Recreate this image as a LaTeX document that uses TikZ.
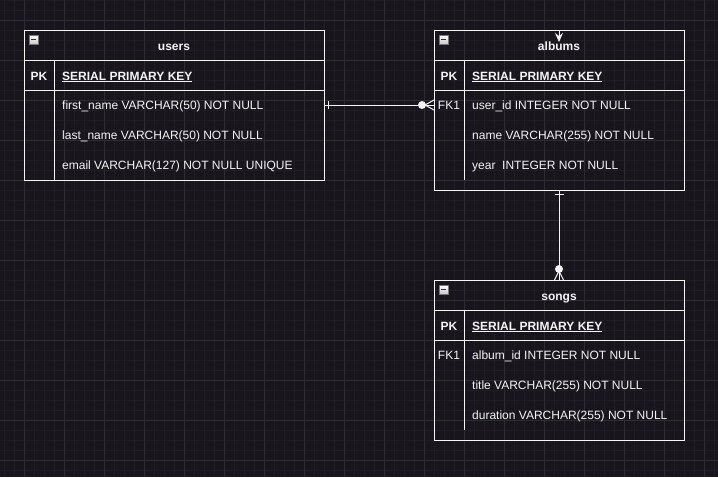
\documentclass[tikz,border=0pt]{standalone}
\usepackage{fontspec}
\setmainfont{Liberation Sans}
\usetikzlibrary{arrows.meta,calc}
\definecolor{bgc}{RGB}{24,21,29}
\definecolor{minorc}{RGB}{32,29,37}
\definecolor{majorc}{RGB}{47,45,52}
\definecolor{fg}{RGB}{245,245,245}
\definecolor{iconfill}{RGB}{200,200,200}
\definecolor{iconedge}{RGB}{120,120,120}
\begin{document}
\begin{tikzpicture}[x=1pt,y=-1pt,
  tbl/.style={draw=fg, line width=1pt, inner sep=0pt, outer sep=0pt},
  rowc/.style={inner sep=0pt, outer sep=0pt, minimum height=30pt},
  tline/.style={draw=fg, line width=1pt},
  conn/.style={draw=fg, line width=1pt},
  title/.style={text=fg, font=\fontsize{12}{14}\selectfont\bfseries, anchor=base, inner sep=0pt},
  keytxt/.style={text=fg, font=\fontsize{12}{14}\selectfont\bfseries, anchor=base, inner sep=0pt},
  pktxt/.style={text=fg, font=\fontsize{12}{14}\selectfont\bfseries, anchor=base west, inner sep=0pt},
  fieldtxt/.style={text=fg, font=\fontsize{12}{14}\selectfont, anchor=base west, inner sep=0pt},
  iconbox/.style={draw=iconedge, line width=0.8pt, top color=white, bottom color=iconfill, minimum width=9pt, minimum height=9pt, inner sep=0pt}
]
\useasboundingbox (0,0) rectangle (718,477);
\fill[bgc] (0,0) rectangle (718,477);
% grid
\foreach \x in {4,14,...,714} \draw[minorc, line width=0.6pt] (\x,0) -- (\x,477);
\foreach \y in {0,10,...,470} \draw[minorc, line width=0.6pt] (0,\y) -- (718,\y);
\foreach \x in {24,64,...,704} \draw[majorc, line width=0.8pt] (\x,0) -- (\x,477);
\foreach \y in {20,60,...,460} \draw[majorc, line width=0.8pt] (0,\y) -- (718,\y);

% ---------- users ----------
\node[tbl, minimum width=300pt, minimum height=150pt, anchor=north west] (users) at (24,30) {};
\draw[tline] (24,60) -- (324,60);
\draw[tline] (24,90) -- (324,90);
\draw[tline] (54,60) -- (54,180);
\node[iconbox] (uicon) at (33.5,39.5) {};
\draw[black!80, line width=1.2pt] (31,39.5) -- (36,39.5);
\node[title] (ut) at (174,50) {users};
\node[keytxt] (upk) at (39,80) {PK};
\node[pktxt] (upkf) at (62,80) {\underline{SERIAL PRIMARY KEY}};
\node[rowc, minimum width=300pt, anchor=north west] (ufn) at (24,90) {};
\node[fieldtxt] (ufnt) at (62,109.5) {first\_name VARCHAR(50) NOT NULL};
\node[fieldtxt] (ulnt) at (62,139.5) {last\_name VARCHAR(50) NOT NULL};
\node[fieldtxt] (uemt) at (62,169.5) {email VARCHAR(127) NOT NULL UNIQUE};

% ---------- albums ----------
\node[tbl, minimum width=250pt, minimum height=160pt, anchor=north west] (albums) at (434,30) {};
\draw[tline] (434,60) -- (684,60);
\draw[tline] (434,90) -- (684,90);
\draw[tline] (464,60) -- (464,180);
\node[iconbox] (aicon) at (443.5,39.5) {};
\draw[black!80, line width=1.2pt] (441,39.5) -- (446,39.5);
\node[title] (at) at (559,50) {albums};
\node[keytxt] (apk) at (449,80) {PK};
\node[pktxt] (apkf) at (472,80) {\underline{SERIAL PRIMARY KEY}};
\node[rowc, minimum width=250pt, anchor=north west] (auid) at (434,90) {};
\node[keytxt, font=\fontsize{12}{14}\selectfont] (afk) at (449,109.5) {FK1};
\node[fieldtxt] (auidt) at (472,109.5) {user\_id INTEGER NOT NULL};
\node[fieldtxt] (anamt) at (472,139.5) {name VARCHAR(255) NOT NULL};
\node[fieldtxt] (ayeart) at (472,169.5) {year\ \ INTEGER NOT NULL};

% ---------- songs ----------
\node[tbl, minimum width=250pt, minimum height=160pt, anchor=north west] (songs) at (434,280) {};
\draw[tline] (434,310) -- (684,310);
\draw[tline] (434,340) -- (684,340);
\draw[tline] (464,310) -- (464,430);
\node[iconbox] (sicon) at (443.5,289.5) {};
\draw[black!80, line width=1.2pt] (441,289.5) -- (446,289.5);
\node[title] (st) at (559,300) {songs};
\node[keytxt] (spk) at (449,330) {PK};
\node[pktxt] (spkf) at (472,330) {\underline{SERIAL PRIMARY KEY}};
\node[keytxt, font=\fontsize{12}{14}\selectfont] (sfk) at (449,359.5) {FK1};
\node[fieldtxt] (said) at (472,359.5) {album\_id INTEGER NOT NULL};
\node[fieldtxt] (stit) at (472,389.5) {title VARCHAR(255) NOT NULL};
\node[fieldtxt] (sdur) at (472,419.5) {duration VARCHAR(255) NOT NULL};

% ---------- connectors ----------
% users -> albums
\draw[conn] (ufn.east) -- (auid.west);
\draw[conn] ($(ufn.east)+(4,-4)$) -- ($(ufn.east)+(4,4)$);
\fill[fg] ($(auid.west)+(-12,0)$) circle[radius=4pt];
\draw[conn] ($(auid.west)+(-9,0)$) -- ($(auid.west)+(0,-5)$);
\draw[conn] ($(auid.west)+(-9,0)$) -- ($(auid.west)+(0,5)$);

% albums -> songs
\draw[conn] (albums.south) -- (songs.north);
\draw[conn] ($(albums.south)+(-4.5,4)$) -- ($(albums.south)+(4.5,4)$);
\fill[fg] ($(songs.north)+(0,-11)$) circle[radius=4pt];
\draw[conn] ($(songs.north)+(0,-9)$) -- ($(songs.north)+(-4.5,0)$);
\draw[conn] ($(songs.north)+(0,-9)$) -- ($(songs.north)+(4.5,0)$);

% stray arrow on albums header
\coordinate (stubend) at ($(albums.north)+(0,12)$);
\draw[conn, -{Stealth[length=9pt,width=8pt,inset=3pt]}] (albums.north) -- (stubend);
\end{tikzpicture}
\end{document}
